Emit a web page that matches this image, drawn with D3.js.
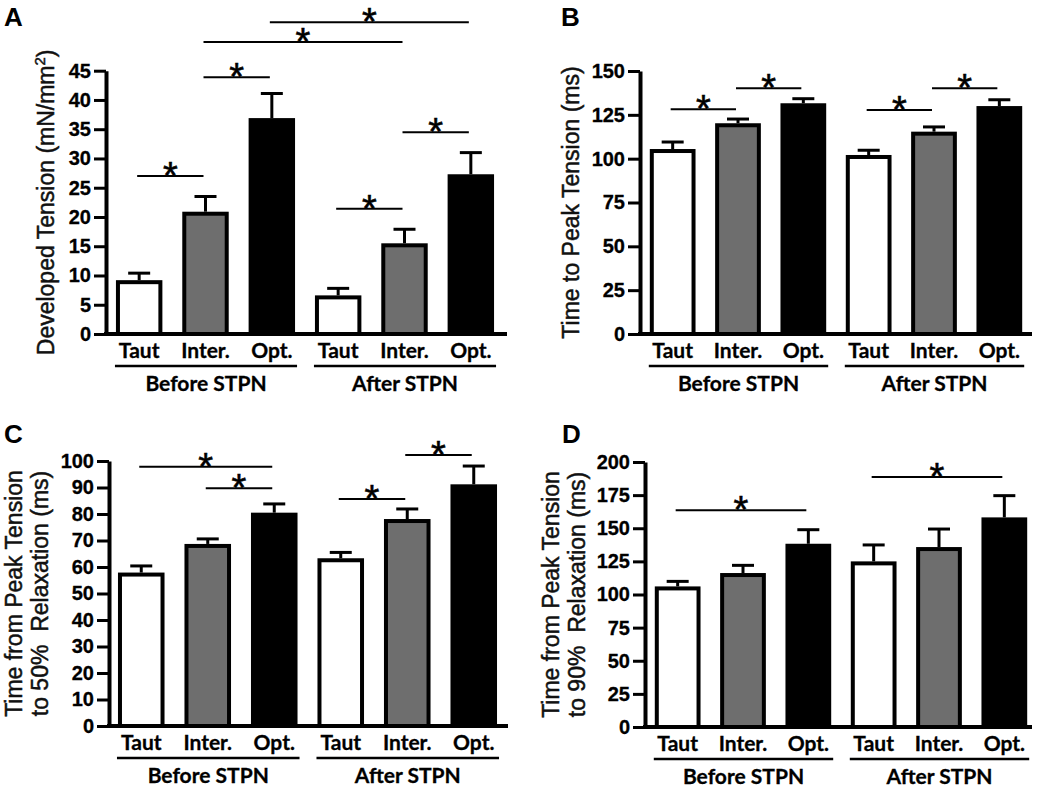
<!DOCTYPE html>
<html>
<head>
<meta charset="utf-8">
<script src="https://cdn.jsdelivr.net/npm/d3@7"></script>
<style>
  body { margin: 0; background: #fff; }
  svg { display: block; }
  text { white-space: pre; }
</style>
</head>
<body>
<svg id="fig" width="1050" height="787"></svg>
<script>
'use strict'
// categories
var conditions = ["Taut", "Inter.", "Opt.", "Taut", "Inter.", "Opt."];
var groups = ["Before STPN", "After STPN"];
var fills = ["#ffffff", "#6e6e6e", "#000000"];

// A: developed tension (mN/mm2)
var tensionMean = [9.2, 20.9, 36.9, 6.6, 15.5, 27.3];
var tensionSem  = [1.2, 2.6, 4.2, 1.2, 2.4, 3.7];
var tensionTicks = [0, 5, 10, 15, 20, 25, 30, 35, 40, 45];
var tensionSig = [[0, 1, 27.0], [1, 2, 43.9], [1, 4, 49.9], [2, 5, 53.3], [3, 4, 21.4], [4, 5, 34.5]];

// B: time to peak tension (ms)
var ttpMean = [105.5, 120.2, 131.6, 102.1, 115.4, 130.0];
var ttpSem  = [4.0, 2.4, 2.6, 2.7, 2.7, 3.6];
var ttpTicks = [0, 25, 50, 75, 100, 125, 150];
var ttpSig = [[0, 1, 128.2], [1, 2, 140.1], [3, 4, 127.8], [4, 5, 140.1]];

// C: peak to 50% relaxation (ms)
var r50Mean = [57.9, 68.7, 80.5, 63.3, 78.1, 91.2];
var r50Sem  = [2.5, 1.9, 3.3, 2.2, 3.8, 6.9];
var r50Ticks = [0, 10, 20, 30, 40, 50, 60, 70, 80, 90, 100];
var r50Sig = [[0, 2, 97.8], [1, 2, 89.7], [3, 4, 85.7], [4, 5, 102.3]];

// D: peak to 90% relaxation (ms)
var r90Mean = [106.1, 116.2, 138.3, 125.0, 135.8, 158.2];
var r90Sem  = [3.8, 5.8, 10.6, 12.4, 13.6, 16.4];
var r90Ticks = [0, 25, 50, 75, 100, 125, 150, 175, 200];
var r90Sig = [[0, 2, 163.5], [3, 5, 188.7]];

var svg = d3.select("#fig");
var tickFont = "'Liberation Sans', Arial, sans-serif";
var catFont = "Lato, 'Open Sans', sans-serif";

function drawPanel(p){
    var g = svg.append("g").attr("class", "panel-" + p.letter);
    var yMax = p.ticks[p.ticks.length - 1];

    var x = d3.scaleBand()
        .domain(d3.range(conditions.length))
        .range([p.band0, p.band1])
        .paddingInner(0.30)
        .paddingOuter(0.15);

    var y = d3.scaleLinear()
        .domain([0, yMax])
        .range([p.bottom, p.top]);

    var bw = x.bandwidth();

    // bars
    g.selectAll(".bar")
      .data(p.mean)
      .enter().append("rect")
        .attr("class", "bar")
        .attr("x", function(d, i){ return x(i) + 2; })
        .attr("y", function(d){ return y(d) + 2; })
        .attr("width", bw - 4)
        .attr("height", function(d){ return Math.max(0, y(0) - y(d) - 2); })
        .attr("fill", function(d, i){ return fills[i % 3]; })
        .attr("stroke", "#000")
        .attr("stroke-width", 4);

    // error bars (upper only)
    var err = g.selectAll(".err")
      .data(p.mean)
      .enter().append("g")
        .attr("class", "err")
        .attr("stroke", "#000")
        .attr("stroke-width", 3);
    err.append("line")
        .attr("x1", function(d, i){ return x(i) + bw / 2; })
        .attr("x2", function(d, i){ return x(i) + bw / 2; })
        .attr("y1", function(d){ return y(d); })
        .attr("y2", function(d, i){ return y(d + p.sem[i]); });
    err.append("line")
        .attr("x1", function(d, i){ return x(i) + bw / 2 - 11; })
        .attr("x2", function(d, i){ return x(i) + bw / 2 + 11; })
        .attr("y1", function(d, i){ return y(d + p.sem[i]); })
        .attr("y2", function(d, i){ return y(d + p.sem[i]); });

    // y axis
    var yAxis = g.append("g")
        .attr("transform", "translate(" + p.axisX + ",0)")
        .call(d3.axisLeft(y).tickValues(p.ticks).tickSize(12).tickSizeOuter(0).tickPadding(3));
    yAxis.select(".domain").attr("stroke-width", 4);
    yAxis.selectAll(".tick line").attr("stroke-width", 3);
    yAxis.selectAll(".tick text")
        .style("font-family", tickFont)
        .style("font-weight", "700")
        .style("font-size", "20px")
        .attr("fill", "#000")
        .attr("stroke", "#000")
        .attr("stroke-width", 0.3);

    // x axis line
    g.append("line")
        .attr("x1", p.axisX - 2).attr("x2", p.axisEnd)
        .attr("y1", y(0)).attr("y2", y(0))
        .attr("stroke", "#000").attr("stroke-width", 4);

    // condition labels
    g.selectAll(".cat")
      .data(conditions)
      .enter().append("text")
        .attr("class", "cat")
        .attr("x", function(d, i){ return x(i) + bw / 2; })
        .attr("y", y(0) + 24)
        .attr("text-anchor", "middle")
        .attr("font-family", catFont)
        .attr("font-weight", "bold")
        .attr("font-size", 21)
        .attr("stroke", "#000")
        .attr("stroke-width", 0.3)
        .text(function(d){ return d; });

    // group underline + label
    groups.forEach(function(name, k){
        var x0 = x(k * 3) - 1, x1 = x(k * 3 + 2) + bw + 2;
        g.append("line")
            .attr("x1", x0).attr("x2", x1)
            .attr("y1", y(0) + 32).attr("y2", y(0) + 32)
            .attr("stroke", "#000").attr("stroke-width", 2.5);
        g.append("text")
            .attr("x", (x0 + x1) / 2)
            .attr("y", y(0) + 57)
            .attr("text-anchor", "middle")
            .attr("font-family", catFont)
            .attr("font-weight", "bold")
            .attr("font-size", 21)
            .attr("stroke", "#000")
            .attr("stroke-width", 0.3)
            .text(name);
    });

    // significance bars
    var sig = g.selectAll(".sig")
      .data(p.sig)
      .enter().append("g")
        .attr("class", "sig");
    sig.append("line")
        .attr("x1", function(d){ return x(d[0]) + bw / 2 - 2; })
        .attr("x2", function(d){ return x(d[1]) + bw / 2 - 2; })
        .attr("y1", function(d){ return y(d[2]); })
        .attr("y2", function(d){ return y(d[2]); })
        .attr("stroke", "#000").attr("stroke-width", 2);
    sig.append("text")
        .attr("x", function(d){ return (x(d[0]) + x(d[1])) / 2 + bw / 2 - 2; })
        .attr("y", function(d){ return y(d[2]) + 13; })
        .attr("text-anchor", "middle")
        .attr("font-family", tickFont)
        .attr("font-size", 38)
        .attr("stroke", "#000")
        .attr("stroke-width", 0.6)
        .text("*");

    // y title
    p.title.forEach(function(line, k){
        var t = g.append("text")
            .attr("transform", "translate(" + p.titleX[k] + "," + ((p.top + p.bottom) / 2) + ") rotate(-90)")
            .attr("text-anchor", "middle")
            .attr("font-family", tickFont)
            .attr("font-size", 23)
            .attr("fill", "#111")
            .attr("stroke", "#111")
            .attr("stroke-width", 0.5);
        if(line.sup){
            t.append("tspan").text(line.text);
            t.append("tspan").attr("dy", -9).attr("font-size", 15).text(line.sup);
            t.append("tspan").attr("dy", 9).text(line.after);
        } else {
            t.text(line.text);
        }
    });

    // panel letter
    g.append("text")
        .attr("x", p.letterX).attr("y", p.letterY)
        .attr("font-family", tickFont)
        .attr("font-weight", "bold")
        .attr("font-size", 26)
        .text(p.letter);
}

drawPanel({
    letter: "A", letterX: 4, letterY: 26,
    mean: tensionMean, sem: tensionSem, ticks: tensionTicks, sig: tensionSig,
    axisX: 106, axisEnd: 507, band0: 106, band1: 504, top: 70.7, bottom: 334,
    title: [{text: "Developed Tension (mN/mm", sup: "2", after: ")"}], titleX: [54]
});
drawPanel({
    letter: "B", letterX: 561, letterY: 26,
    mean: ttpMean, sem: ttpSem, ticks: ttpTicks, sig: ttpSig,
    axisX: 640, axisEnd: 1032, band0: 640, band1: 1032, top: 71, bottom: 334,
    title: [{text: "Time to Peak Tension (ms)"}], titleX: [579]
});
drawPanel({
    letter: "C", letterX: 4, letterY: 443,
    mean: r50Mean, sem: r50Sem, ticks: r50Ticks, sig: r50Sig,
    axisX: 109, axisEnd: 508, band0: 108, band1: 507, top: 461, bottom: 726,
    title: [{text: "Time from Peak Tension"}, {text: "to 50%  Relaxation (ms)"}], titleX: [22, 48]
});
drawPanel({
    letter: "D", letterX: 562, letterY: 443,
    mean: r90Mean, sem: r90Sem, ticks: r90Ticks, sig: r90Sig,
    axisX: 645, axisEnd: 1032, band0: 645, band1: 1037, top: 462, bottom: 727,
    title: [{text: "Time from Peak Tension"}, {text: "to 90%  Relaxation (ms)"}], titleX: [559, 585]
});
</script>
</body>
</html>
